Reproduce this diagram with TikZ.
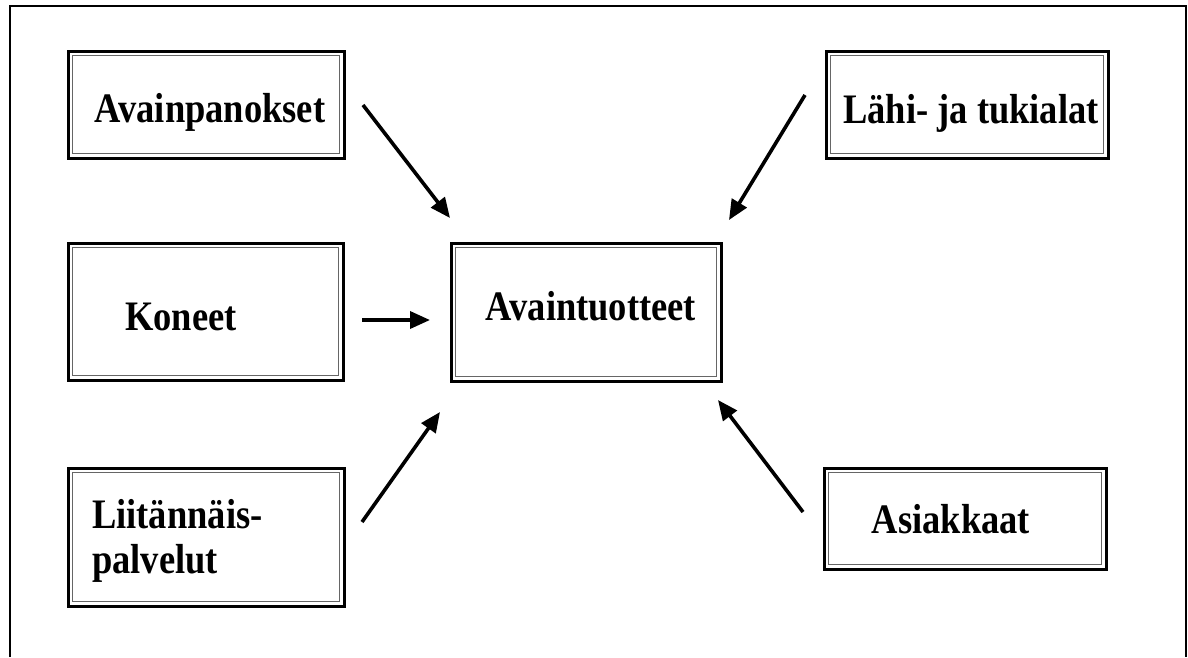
\documentclass[tikz,border=0pt]{standalone}
\usepackage{fontspec}
\setmainfont{Liberation Serif}
\usetikzlibrary{arrows.meta}
\newcommand\lbl[1]{\scalebox{1}[1.15]{#1}}
\tikzset{
  box/.style={draw=black, line width=2.6pt, anchor=north west, inner sep=0pt,
    path picture={\draw[black!60, line width=1.2pt]
      ([shift={(4.5pt,-4.5pt)}]path picture bounding box.north west) rectangle
      ([shift={(-4.5pt,4.5pt)}]path picture bounding box.south east);}},
  txt/.style={anchor=base, inner sep=0pt, font=\bfseries\fontsize{36.5}{36.5}\selectfont},
  arr/.style={line width=3.6pt, -{Triangle[length=20pt,width=17pt]}},
  frame/.style={line width=2.2pt}
}
\begin{document}
\begin{tikzpicture}[x=1pt,y=-1pt]
\useasboundingbox (0,0) rectangle (1188,657);
\draw[frame] (10,657) -- (10,6) -- (1186,6) -- (1186,657);

\node[box, minimum width=276pt, minimum height=107pt] (ap) at (67,50) {};
\node[box, minimum width=275pt, minimum height=137pt] (ko) at (67,242) {};
\node[box, minimum width=270pt, minimum height=138pt] (at) at (450,242) {};
\node[box, minimum width=282pt, minimum height=107pt] (lt) at (825,50) {};
\node[box, minimum width=276pt, minimum height=138pt] (lp) at (67,467) {};
\node[box, minimum width=282pt, minimum height=101pt] (as) at (823,467) {};

\node[txt] (tap) at (210,122) {\lbl{Avainpanokset}};
\node[txt] (tko) at (181,330) {\lbl{Koneet}};
\node[txt] (tat) at (591,320) {\lbl{Avaintuotteet}};
\node[txt] (tlt) at (971,123) {\lbl{Lähi- ja tukialat}};
\node[txt, anchor=base west] (tlp) at (92,528) {\lbl{\begin{tabular}[t]{@{}l@{}}Liitännäis-\\[3pt]palvelut\end{tabular}}};
\node[txt] (tas) at (951,533) {\lbl{Asiakkaat}};

\coordinate (s1) at (363,105); \coordinate (e1) at (450,218);
\coordinate (s2) at (805,95);  \coordinate (e2) at (729,220);
\coordinate (s3) at (362,320); \coordinate (e3) at (430,320);
\coordinate (s4) at (362,522); \coordinate (e4) at (440,412);
\coordinate (s5) at (803,512); \coordinate (e5) at (718,400);
\draw[arr] (s1) -- (e1);
\draw[arr] (s2) -- (e2);
\draw[arr] (s3) -- (e3);
\draw[arr] (s4) -- (e4);
\draw[arr] (s5) -- (e5);
\end{tikzpicture}
\end{document}
